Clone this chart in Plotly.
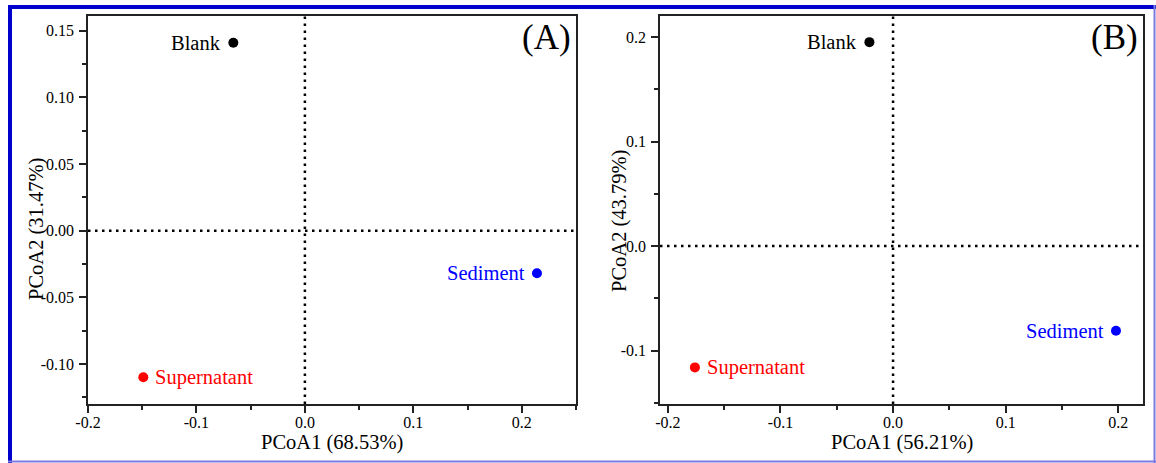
import plotly.graph_objects as go

# ---------------- data ----------------
samples = ["Blank", "Sediment", "Supernatant"]
colors = ["#000000", "#0000FF", "#FF0000"]

# Panel A
a_pc1 = [-0.066, 0.214, -0.149]
a_pc2 = [0.141, -0.032, -0.110]
# Panel B
b_pc1 = [-0.021, 0.198, -0.176]
b_pc2 = [0.195, -0.081, -0.116]

a_xticks = [-0.2, -0.1, 0.0, 0.1, 0.2]
a_xticktext = ["-0.2", "-0.1", "0.0", "0.1", "0.2"]
a_yticks = [-0.10, -0.05, 0.00, 0.05, 0.10, 0.15]
a_yticktext = ["-0.10", "-0.05", "0.00", "0.05", "0.10", "0.15"]
b_xticks = [-0.2, -0.1, 0.0, 0.1, 0.2]
b_xticktext = ["-0.2", "-0.1", "0.0", "0.1", "0.2"]
b_yticks = [-0.1, 0.0, 0.1, 0.2]
b_yticktext = ["-0.1", "0.0", "0.1", "0.2"]

a_xtitle = "PCoA1 (68.53%)"
a_ytitle = "PCoA2 (31.47%)"
b_xtitle = "PCoA1 (56.21%)"
b_ytitle = "PCoA2 (43.79%)"
panel_labels = ["(A)", "(B)"]
label_side = ["left", "left", "right"]

# ---------------- layout ----------------
W, H = 1156, 463
FONT = "Liberation Serif, Times New Roman, serif"

def px_x(p):
    return p / W

def px_y(p):
    return 1 - p / H

domA = [px_x(88), px_x(576)]
domB = [px_x(660), px_x(1143)]
domY = [px_y(404), px_y(16)]

fig = go.Figure()

for (xs, ys, xa, ya) in [(a_pc1, a_pc2, "x", "y"), (b_pc1, b_pc2, "x2", "y2")]:
    fig.add_trace(go.Scatter(
        x=xs, y=ys, mode="markers", xaxis=xa, yaxis=ya,
        marker=dict(size=10, color=colors, line=dict(width=0)),
        hoverinfo="skip", showlegend=False,
    ))

axis_common = dict(
    showline=True, linecolor="#222222", linewidth=1.6, mirror=True,
    ticks="outside", ticklen=7, tickwidth=1.5, tickcolor="#222222",
    showgrid=False, zeroline=False, automargin=False,
    tickfont=dict(family=FONT, size=16, color="black"),
)
minor_common = dict(ticks="outside", ticklen=4, tick0=0, tickcolor="#222222", tickwidth=1.5)

fig.update_layout(
    width=W, height=H,
    margin=dict(l=0, r=0, t=0, b=0),
    paper_bgcolor="white", plot_bgcolor="white",
    xaxis=dict(domain=domA, range=[-0.2, 0.25], anchor="y",
               tickvals=a_xticks, ticktext=a_xticktext, ticklabelstandoff=-4,
               minor=dict(dtick=0.05, **minor_common),
               **axis_common),
    yaxis=dict(domain=domY, range=[-0.13, 0.161], anchor="x",
               tickvals=a_yticks, ticktext=a_yticktext, ticklabelstandoff=2,
               minor=dict(dtick=0.025, **minor_common),
               **axis_common),
    xaxis2=dict(domain=domB, range=[-0.207, 0.222], anchor="y2",
                tickvals=b_xticks, ticktext=b_xticktext, ticklabelstandoff=-4,
                minor=dict(dtick=0.05, **minor_common),
                **axis_common),
    yaxis2=dict(domain=domY, range=[-0.151, 0.22], anchor="x2",
                tickvals=b_yticks, ticktext=b_yticktext, ticklabelstandoff=2,
                minor=dict(dtick=0.05, **minor_common),
                **axis_common),
)

shapes = []
# dotted zero lines
for xr, yr in [("x", "y"), ("x2", "y2")]:
    shapes.append(dict(type="line", xref=xr, yref=f"{yr} domain", x0=0, x1=0, y0=0, y1=1,
                       line=dict(color="black", width=2.5, dash="2.5px,4.5px")))
    shapes.append(dict(type="line", xref=f"{xr} domain", yref=yr, x0=0, x1=1, y0=0, y1=0,
                       line=dict(color="black", width=2.5, dash="2.5px,4.5px")))

# outer blue frame
shapes.append(dict(type="line", xref="paper", yref="paper", x0=px_x(10), x1=px_x(10),
                   y0=px_y(5), y1=px_y(463), line=dict(color="#0000CC", width=4)))
shapes.append(dict(type="line", xref="paper", yref="paper", x0=px_x(8), x1=px_x(1156),
                   y0=px_y(7), y1=px_y(7), line=dict(color="#0000CC", width=4)))
shapes.append(dict(type="line", xref="paper", yref="paper", x0=px_x(1154.5), x1=px_x(1154.5),
                   y0=px_y(5), y1=px_y(463), line=dict(color="#7B7BE0", width=2)))
shapes.append(dict(type="line", xref="paper", yref="paper", x0=px_x(8), x1=px_x(1156),
                   y0=px_y(461.5), y1=px_y(461.5), line=dict(color="#7B7BE0", width=2)))
fig.update_layout(shapes=shapes)

annotations = []
# point labels
for (xs, ys, xr, yr) in [(a_pc1, a_pc2, "x", "y"), (b_pc1, b_pc2, "x2", "y2")]:
    for name, xv, yv, col, side in zip(samples, xs, ys, colors, label_side):
        annotations.append(dict(
            x=xv, y=yv, xref=xr, yref=yr, text=name, showarrow=False,
            xanchor="right" if side == "left" else "left", yanchor="middle",
            xshift=-10 if side == "left" else 10,
            font=dict(family=FONT, size=20.5, color=col),
        ))

# axis titles
for dom, t in [(domA, a_xtitle), (domB, b_xtitle)]:
    annotations.append(dict(x=(dom[0] + dom[1]) / 2, y=px_y(442), xref="paper", yref="paper",
                            text=t, showarrow=False, xanchor="center", yanchor="middle",
                            font=dict(family=FONT, size=20.5, color="black")))
for xp, yc, t in [(36, 229, a_ytitle), (619, 221, b_ytitle)]:
    annotations.append(dict(x=px_x(xp), y=px_y(yc), xref="paper", yref="paper",
                            text=t, showarrow=False, textangle=-90, xanchor="center", yanchor="middle",
                            font=dict(family=FONT, size=20.5, color="black")))

# panel labels
for dom, t in [(domA, panel_labels[0]), (domB, panel_labels[1])]:
    annotations.append(dict(x=dom[1], y=domY[1], xref="paper", yref="paper", text=t,
                            showarrow=False, xanchor="right", yanchor="top",
                            xshift=-3, yshift=0,
                            font=dict(family=FONT, size=35, color="black")))

fig.update_layout(annotations=annotations)

fig.write_html("out.html")
